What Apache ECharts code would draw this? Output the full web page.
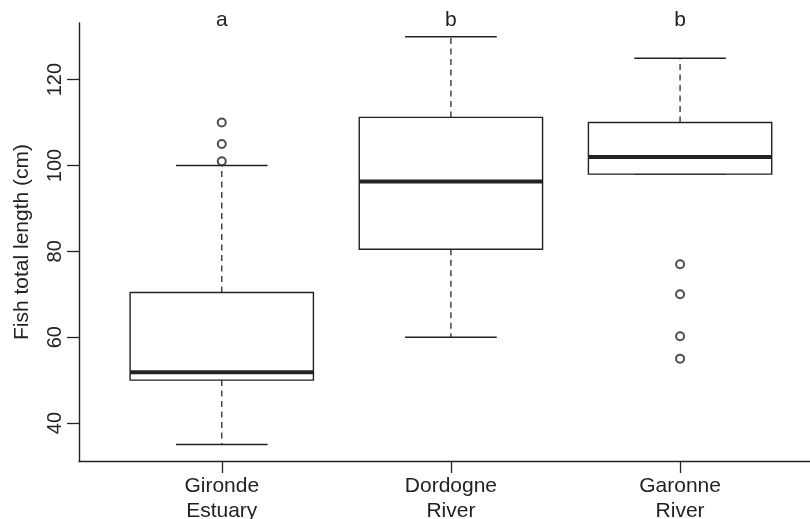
<!DOCTYPE html>
<html>
<head>
<meta charset="utf-8">
<script src="https://cdn.jsdelivr.net/npm/echarts@6/dist/echarts.min.js"></script>
<style>
  html, body { margin: 0; padding: 0; background: #ffffff; }
  #chart { width: 810px; height: 519px; }
</style>
</head>
<body>
<div id="chart"></div>
<script>
// Sampling sites along the x axis
const sites = ['Gironde\nEstuary', 'Dordogne\nRiver', 'Garonne\nRiver'];
// Letters marking statistically distinct groups
const groupLetters = ['a', 'b', 'b'];

// Box statistics per site (cm)
const lowerWhisker = [35, 60, 98];
const q1 = [50, 80.5, 98];
const median = [51.8, 96.3, 102];
const q3 = [70.4, 111.2, 110];
const upperWhisker = [100, 130, 125];

// Outlying fish (site position, length in cm)
const outlierSite = [1, 1, 1, 3, 3, 3, 3];
const outlierValue = [110, 105, 101, 77, 70, 60.2, 55];

// Axis ticks
const yTicks = [40, 60, 80, 100, 120];
const xTicks = [1, 2, 3];

const Y_MIN = 31.15;
const Y_MAX = 133.2;

const INK = '#222222';
const FONT = '"Liberation Sans", Arial, Helvetica, sans-serif';

const boxData = sites.map((s, i) => [i + 1, lowerWhisker[i], q1[i], median[i], q3[i], upperWhisker[i]]);
const outlierData = outlierSite.map((s, i) => [s, outlierValue[i]]);

const chart = echarts.init(document.getElementById('chart'), null, { renderer: 'canvas' });

function renderBox(params, api) {
  const x = api.value(0);
  const lo = api.value(1), lower = api.value(2), mid = api.value(3), upper = api.value(4), hi = api.value(5);
  const cx = api.coord([x, mid])[0];
  const boxL = api.coord([x - 0.4, mid])[0];
  const boxR = api.coord([x + 0.4, mid])[0];
  const capL = api.coord([x - 0.2, mid])[0];
  const capR = api.coord([x + 0.2, mid])[0];
  const yLo = api.coord([x, lo])[1];
  const yQ1 = api.coord([x, lower])[1];
  const yMed = api.coord([x, mid])[1];
  const yQ3 = api.coord([x, upper])[1];
  const yHi = api.coord([x, hi])[1];
  const yTop = api.coord([x, Y_MAX])[1];

  const dashStyle = { stroke: '#2a2a2a', lineWidth: 1.3, lineDash: [6, 4.5] };
  const solid = { stroke: INK, lineWidth: 1.4 };
  const children = [];
  if (hi > upper) {
    children.push({ type: 'line', shape: { x1: cx, y1: yQ3, x2: cx, y2: yHi }, style: dashStyle });
  }
  if (lo < lower) {
    children.push({ type: 'line', shape: { x1: cx, y1: yQ1, x2: cx, y2: yLo }, style: dashStyle });
  }
  children.push({ type: 'line', shape: { x1: capL, y1: yHi, x2: capR, y2: yHi }, style: solid });
  children.push({ type: 'line', shape: { x1: capL, y1: yLo, x2: capR, y2: yLo }, style: solid });
  children.push({
    type: 'rect',
    shape: { x: boxL, y: yQ3, width: boxR - boxL, height: yQ1 - yQ3 },
    style: { fill: '#ffffff', stroke: INK, lineWidth: 1.4 }
  });
  children.push({ type: 'line', shape: { x1: boxL, y1: yMed, x2: boxR, y2: yMed }, style: { stroke: INK, lineWidth: 4 } });
  children.push({
    type: 'text',
    style: {
      text: groupLetters[params.dataIndex],
      x: cx,
      y: yTop - 3,
      align: 'center',
      verticalAlign: 'middle',
      fill: INK,
      font: '21px ' + FONT
    }
  });
  return { type: 'group', children: children };
}

chart.setOption({
  animation: false,
  backgroundColor: '#ffffff',
  textStyle: { fontFamily: FONT, color: INK },
  grid: { left: 79, right: 0, top: 23, bottom: 58, outerBoundsMode: 'none', containLabel: false },
  xAxis: {
    type: 'value',
    min: 0.377,
    max: 3.567,
    axisLine: { show: true, onZero: false, lineStyle: { color: INK, width: 1.4 } },
    axisTick: { show: true, customValues: xTicks, length: 12, lineStyle: { color: INK, width: 1.3 } },
    axisLabel: {
      show: true,
      customValues: xTicks,
      formatter: v => sites[Math.round(v) - 1] || '',
      fontSize: 21,
      lineHeight: 25,
      margin: 13,
      color: INK,
      fontFamily: FONT
    },
    splitLine: { show: false }
  },
  yAxis: {
    type: 'value',
    min: Y_MIN,
    max: Y_MAX,
    name: 'Fish total length (cm)',
    nameLocation: 'middle',
    nameRotate: 90,
    nameGap: 46,
    nameTextStyle: { fontSize: 21, color: INK, fontFamily: FONT },
    axisLine: { show: true, onZero: false, lineStyle: { color: INK, width: 1.4 } },
    axisTick: { show: true, customValues: yTicks, length: 12, lineStyle: { color: INK, width: 1.3 } },
    axisLabel: {
      show: true,
      customValues: yTicks,
      rotate: 90,
      fontSize: 20,
      margin: 14,
      color: INK,
      fontFamily: FONT
    },
    splitLine: { show: false }
  },
  series: [
    {
      type: 'custom',
      name: 'box',
      renderItem: renderBox,
      encode: { x: 0, y: [1, 2, 3, 4, 5] },
      data: boxData,
      clip: false,
      silent: true
    },
    {
      type: 'scatter',
      name: 'outliers',
      symbol: 'emptyCircle',
      symbolSize: 8,
      itemStyle: { color: INK, borderColor: INK, borderWidth: 1 },
      data: outlierData,
      z: 5,
      silent: true
    }
  ]
});
</script>
</body>
</html>
